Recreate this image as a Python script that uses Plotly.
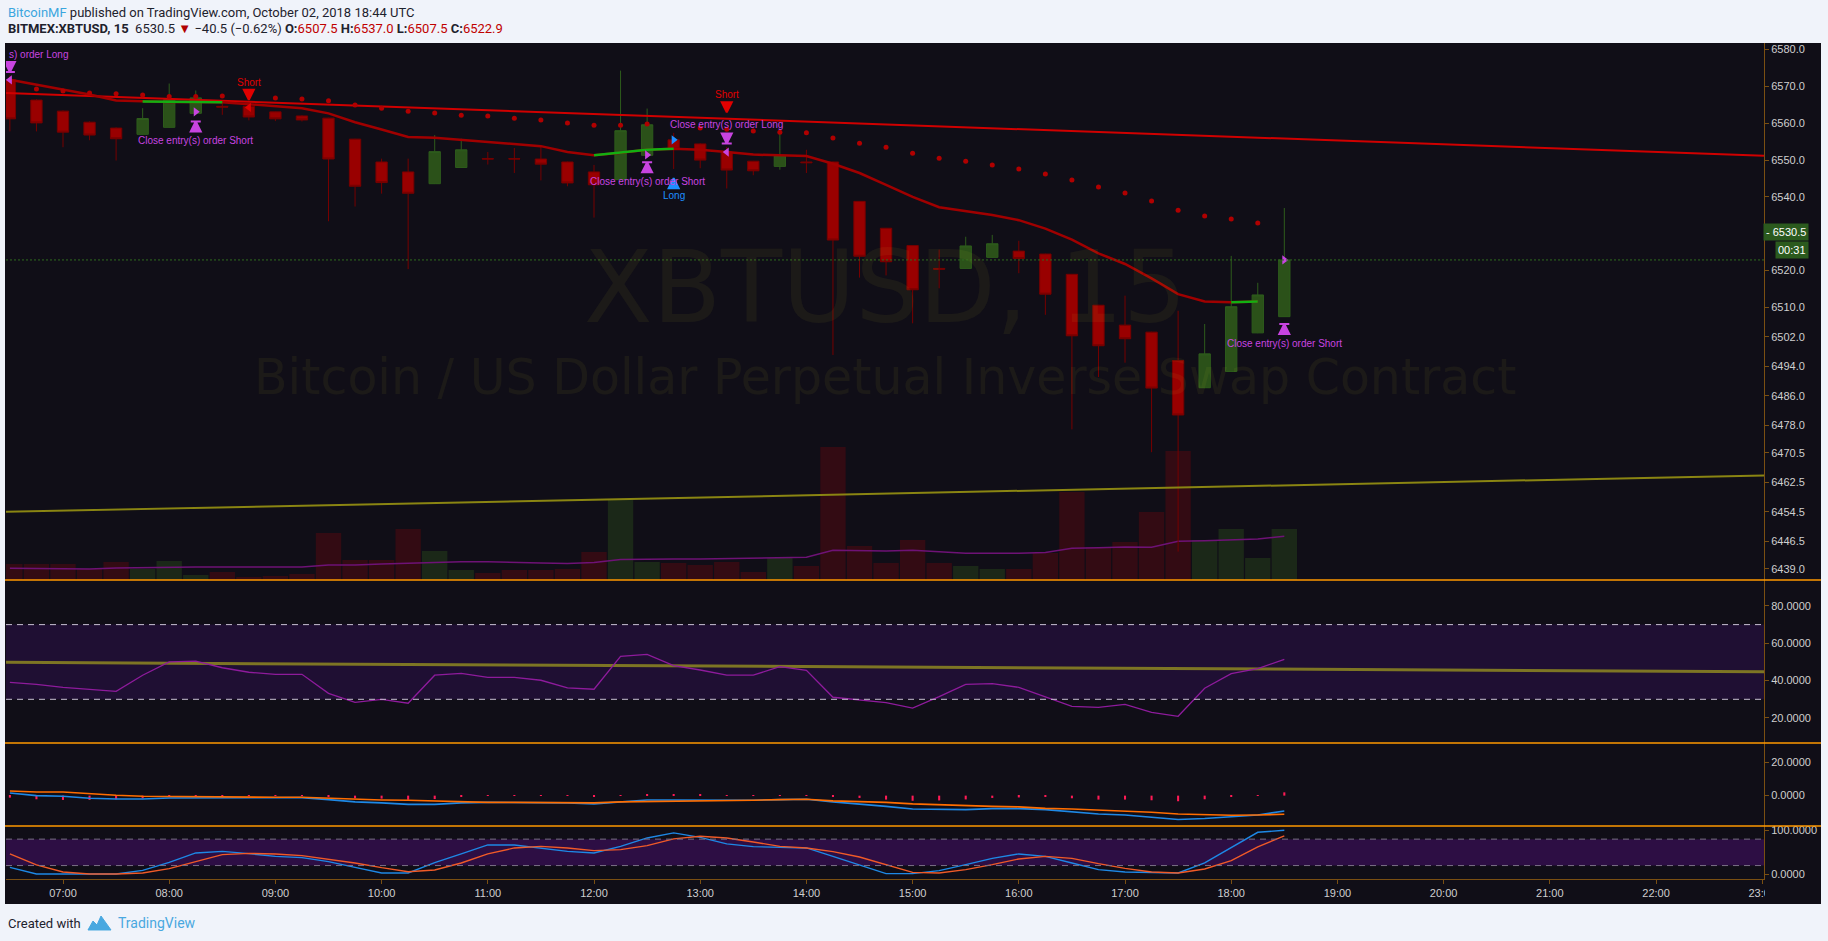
import plotly.graph_objects as go
import pandas as pd

DAY = "2018-10-02 "
times = pd.date_range(DAY + "06:30", periods=49, freq="15min")

opens = [6571.8, 6566.3, 6563.3, 6560.3, 6558.7, 6557.0, 6558.9, 6562.7, 6564.6, 6564.6,
         6563.1, 6562.0, 6561.4, 6555.7, 6549.5, 6546.8, 6543.6, 6548.0, 6550.4, 6550.4,
         6550.3, 6549.5, 6546.8, 6544.7, 6551.3, 6555.5, 6554.4, 6552.2, 6549.7, 6548.3,
         6549.5, 6549.5, 6538.8, 6531.5, 6526.8, 6520.6, 6520.6, 6523.6, 6525.3, 6524.5,
         6519.0, 6510.6, 6505.2, 6503.3, 6495.6, 6488.2, 6492.6, 6503.1, 6507.5]
highs = [6573.0, 6566.5, 6563.5, 6560.5, 6558.9, 6564.1, 6570.8, 6568.9, 6566.1, 6565.5,
         6563.2, 6562.2, 6561.5, 6555.8, 6550.4, 6550.4, 6556.8, 6555.8, 6552.2, 6553.3,
         6553.7, 6549.6, 6548.7, 6574.3, 6564.0, 6557.4, 6554.6, 6553.6, 6549.8, 6557.8,
         6552.8, 6549.6, 6538.9, 6531.6, 6526.9, 6525.7, 6529.2, 6529.7, 6528.1, 6524.6,
         6519.1, 6510.7, 6513.2, 6503.4, 6509.1, 6505.5, 6524.0, 6516.7, 6537.0]
lows = [6557.8, 6557.8, 6553.5, 6555.4, 6549.9, 6556.9, 6558.8, 6562.6, 6562.3, 6560.8,
        6560.6, 6560.5, 6533.4, 6537.4, 6540.9, 6520.4, 6543.5, 6547.9, 6548.8, 6546.5,
        6544.5, 6542.9, 6534.4, 6544.5, 6551.2, 6547.6, 6547.8, 6542.3, 6545.9, 6547.4,
        6546.5, 6497.1, 6518.1, 6518.7, 6505.7, 6515.2, 6520.5, 6523.5, 6519.3, 6508.0,
        6476.9, 6491.1, 6495.0, 6470.7, 6443.7, 6488.1, 6492.5, 6503.0, 6507.5]
closes = [6561.2, 6560.1, 6557.6, 6556.8, 6555.8, 6561.3, 6566.4, 6566.9, 6564.4, 6561.7,
          6561.2, 6560.9, 6550.3, 6542.9, 6543.9, 6541.0, 6552.3, 6552.8, 6550.3, 6550.3,
          6548.9, 6543.8, 6543.3, 6558.0, 6559.6, 6553.0, 6550.0, 6547.3, 6547.1, 6551.2,
          6549.3, 6528.3, 6523.9, 6522.4, 6514.8, 6520.4, 6526.7, 6527.3, 6523.3, 6513.6,
          6502.3, 6499.6, 6501.5, 6488.1, 6480.8, 6497.4, 6510.2, 6513.4, 6522.9]

volume = [16, 16, 16, 11, 18, 11, 19, 5, 8, 3, 4, 6, 47, 20, 20, 51, 29, 10, 7, 10,
          10, 11, 28, 80, 18, 17, 15, 18, 8, 22, 14, 133, 34, 17, 40, 17, 14, 11, 11, 27,
          88, 33, 38, 68, 129, 40, 51, 22, 51]
volume_ma = [11.7, 11.5, 11, 11, 12, 12.5, 13, 13, 13, 13, 13, 13, 15, 15, 16, 17, 18, 18.3, 18.3, 18,
             17, 16.5, 17.5, 20.5, 21, 21, 21, 21.5, 22, 22.5, 22.7, 29.7, 29, 29, 29.7, 28, 26.7, 26.7,
             26.7, 27.5, 31.7, 32.3, 33, 32.7, 38.7, 39.3, 40.5, 41, 43.7]

ema = [6571.8, 6570.5, 6569.1, 6567.8, 6566.2, 6565.9, 6565.8, 6565.8, 6565.7, 6565.2,
       6564.7, 6564.1, 6562.7, 6560.3, 6558.3, 6556.3, 6556.1, 6555.5, 6555.1, 6554.5,
       6553.8, 6552.2, 6551.3, 6552.0, 6552.8, 6553.1, 6552.8, 6552.2, 6551.5, 6551.3,
       6551.1, 6549.0, 6546.5, 6543.3, 6540.0, 6537.2, 6536.2, 6535.1, 6533.7, 6531.4,
       6528.4, 6524.7, 6521.8, 6517.9, 6513.6, 6511.6, 6511.4, 6511.6, None]
ema_green_spans = [(5, 8), (22, 25), (46, 48)]

sar = [None, 6569.3, 6568.8, 6568.2, 6568.0, 6567.7, 6567.3, 6567.3, 6567.4, None,
       6566.9, 6566.6, 6566.1, 6565.0, 6564.1, 6563.3, 6562.8, 6562.2, 6562.0, 6561.4,
       6560.9, 6560.1, 6559.5, 6559.5, 6559.8, None, 6558.7, 6558.4, 6557.9, 6557.6,
       6557.4, 6556.0, 6554.6, 6553.5, 6551.9, 6550.5, 6549.7, 6548.7, 6547.6, 6546.2,
       6544.6, 6542.7, 6541.1, 6538.9, 6536.4, 6534.8, 6534.0, 6532.9, None]

rsi = [39.1, 38.0, 36.4, 35.4, 34.3, 42.9, 50.0, 50.5, 46.9, 44.5, 43.4, 43.4, 33.2, 28.4,
       30.0, 27.9, 42.9, 43.9, 41.8, 41.8, 40.2, 36.1, 35.4, 53.0, 54.1, 48.0, 45.7, 42.9,
       42.9, 47.5, 45.5, 31.1, 29.6, 28.2, 25.3, 31.4, 38.0, 38.4, 36.4, 31.1, 26.2, 25.7,
       27.3, 23.0, 20.9, 35.9, 43.7, 46.4, 51.4]

macd = [1.6, 0.0, -0.4, -1.6, -2.0, -2.0, -1.4, -1.4, -1.2, -1.2, -1.2, -1.2, -2.4, -3.8,
        -4.4, -5.3, -5.3, -4.4, -4.1, -4.1, -4.1, -4.4, -5.0, -3.8, -2.6, -2.6, -2.8, -2.8,
        -2.8, -2.4, -2.2, -3.8, -5.0, -6.5, -8.1, -8.5, -8.5, -7.9, -7.9, -8.5, -9.7, -11.1,
        -11.7, -12.9, -14.5, -13.9, -12.7, -11.7, -9.3]
macd_signal = [2.8, 2.2, 2.2, 1.0, 0.2, -0.4, -0.6, -0.8, -0.8, -1.0, -1.0, -1.0, -1.6, -2.2,
               -2.6, -2.8, -3.2, -3.8, -4.1, -4.1, -4.1, -4.2, -4.4, -3.8, -3.6, -3.5, -3.5, -3.0,
               -2.8, -2.4, -2.2, -3.2, -3.6, -4.1, -5.0, -5.6, -6.2, -6.5, -6.8, -7.7, -8.1, -8.7,
               -9.3, -10.1, -11.1, -11.7, -11.9, -11.7, -11.3]
macd_hist = [-1.2, -2.2, -2.6, -2.6, -2.2, -1.6, -0.8, -0.6, -0.4, -0.2, -0.2, -0.2, -0.8, -1.6,
             -1.8, -2.5, -2.1, -0.6, -0.1, -0.1, 0.1, -0.2, -0.6, 0.2, 1.0, 0.9, 0.7, 0.2,
             0.1, 0.1, 0.1, -0.6, -1.4, -2.4, -3.1, -2.9, -2.3, -1.4, -1.1, -0.8, -1.6, -2.4,
             -2.4, -2.8, -3.4, -2.2, -0.8, 0.1, 2.0]

stoch_k = [15.9, 0.9, 0.9, 0.9, 0.9, 9.1, 27.3, 48.6, 52.3, 47.0, 40.9, 38.0, 28.9, 15.9,
           3.2, 3.2, 26.6, 46.4, 66.8, 66.8, 60.0, 52.3, 48.6, 63.6, 82.7, 94.1, 84.0, 69.1,
           63.0, 60.7, 60.0, 40.9, 20.5, 1.6, 1.6, 8.4, 22.0, 36.4, 46.4, 40.9, 25.9, 10.7,
           5.5, 3.9, 3.2, 25.9, 60.0, 95.5, 100.0]
stoch_d = [46.4, 21.4, 5.5, 0.9, 0.9, 3.2, 13.0, 28.9, 44.8, 47.7, 46.4, 42.5, 35.0, 25.9,
           15.2, 6.1, 10.0, 25.9, 46.4, 60.0, 63.6, 60.0, 53.9, 56.1, 65.2, 80.5, 86.4, 82.7,
           73.6, 63.6, 60.0, 51.6, 39.5, 22.0, 4.5, 3.2, 10.7, 22.0, 35.0, 40.9, 36.4, 24.3,
           13.6, 5.5, 3.2, 12.3, 31.1, 62.3, 87.3]

# drawn trend lines (start/end of visible range)
line_t = [DAY + "06:27:48", DAY + "23:01:00"]
red_trend = [6568.2, 6551.2]
yellow_trend = [6454.5, 6464.4]
rsi_trend = [49.8, 44.8]

# strategy labels
MAG, RED, BLUE = "#c844e0", "#e00000", "#1e8fff"
label_time = ["08:45", "08:15", "13:15", "13:15", "12:30", "12:45", "18:30"]
label_price = [6571.1, 6555.4, 6567.9, 6559.7, 6544.2, 6540.3, 6500.2]
label_text = ["Short", "Close entry(s) order Short", "Short", "Close entry(s) order Long",
              "Close entry(s) order Short", "Long", "Close entry(s) order Short"]
label_color = [RED, MAG, RED, MAG, MAG, BLUE, MAG]

arrow_time = ["06:30", "08:45", "08:15", "13:15", "13:15", "12:30", "12:45", "18:30"]
arrow_price = [6573.9, 6566.4, 6560.5, 6563.0, 6554.5, 6549.4, 6545.1, 6505.5]
arrow_symbol = ["arrow-bar-down", "arrow-down", "arrow-bar-up", "arrow-down",
                "arrow-bar-down", "arrow-bar-up", "arrow-up", "arrow-bar-up"]
arrow_color = [MAG, RED, MAG, RED, MAG, MAG, BLUE, MAG]

tri_time = ["06:30", "08:45", "08:15", "13:15", "12:30", "12:45", "18:30"]
tri_price = [6571.8, 6564.3, 6563.1, 6552.2, 6551.4, 6555.5, 6522.9]
tri_symbol = ["triangle-left", "triangle-left", "triangle-right", "triangle-left",
              "triangle-right", "triangle-right", "triangle-right"]
tri_color = [MAG, RED, MAG, MAG, MAG, BLUE, MAG]

price_ticks = [6580.0, 6570.0, 6560.0, 6550.0, 6540.0, 6520.0, 6510.0, 6502.0, 6494.0,
               6486.0, 6478.0, 6470.5, 6462.5, 6454.5, 6446.5, 6439.0]
hour_ticks = [f"{h:02d}:00" for h in range(7, 24)]

BG = "#100e17"
PAPER = "#f0f3fa"
AXIS = "#7a4f12"
SEP = "#ff9800"
TXT = "#cfcfcf"
W, H = 1828, 941
L, R, T, B = 6, 1764, 43, 879


def px(x):
    return (x - L) / (R - L)


def py(y):
    return (B - y) / (B - T)


fig = go.Figure()

# volume (base axis y)
vol_colors = ["#1b2818" if c >= o else "#330b13" for o, c in zip(opens, closes)]
fig.add_trace(go.Bar(x=times, y=volume, width=860000, marker_color=vol_colors,
                     marker_line_width=0, yaxis="y", xaxis="x"))
fig.add_trace(go.Scatter(x=times, y=volume_ma, mode="lines", line=dict(color="#6e1276", width=1.5),
                         yaxis="y", xaxis="x"))

# price overlay (y5)
fig.add_trace(go.Scatter(x=line_t, y=yellow_trend, mode="lines",
                         line=dict(color="#8a8512", width=2), yaxis="y5"))
fig.add_trace(go.Scatter(x=line_t, y=red_trend, mode="lines",
                         line=dict(color="#d00000", width=2), yaxis="y5"))
fig.add_trace(go.Scatter(x=times, y=ema, mode="lines",
                         line=dict(color="#a00000", width=2.5), yaxis="y5"))
for a, b in ema_green_spans:
    fig.add_trace(go.Scatter(x=times[a:b + 1], y=ema[a:b + 1], mode="lines",
                             line=dict(color="#12b012", width=2.5), yaxis="y5"))
fig.add_trace(go.Scatter(x=times, y=sar, mode="markers",
                         marker=dict(color="#b00000", size=5), yaxis="y5"))
fig.add_trace(go.Candlestick(
    x=times, open=opens, high=highs, low=lows, close=closes, yaxis="y5",
    increasing=dict(fillcolor="#2b5119", line=dict(color="#2e5c1c", width=1)),
    decreasing=dict(fillcolor="#990000", line=dict(color="#760000", width=1)),
    whiskerwidth=0))
fig.add_trace(go.Scatter(x=[pd.Timestamp(DAY + t) for t in arrow_time], y=arrow_price,
                         mode="markers", yaxis="y5",
                         marker=dict(symbol=arrow_symbol, color=arrow_color, size=10,
                                     line=dict(color=arrow_color, width=2))))
fig.add_trace(go.Scatter(x=[pd.Timestamp(DAY + t) for t in tri_time], y=tri_price,
                         mode="markers", yaxis="y5",
                         marker=dict(symbol=tri_symbol, color=tri_color, size=8)))

# RSI pane
fig.add_trace(go.Scatter(x=line_t, y=rsi_trend, mode="lines",
                         line=dict(color="#7d7524", width=3), yaxis="y2"))
fig.add_trace(go.Scatter(x=times, y=rsi, mode="lines",
                         line=dict(color="#8e1b9c", width=1.3), yaxis="y2"))

# MACD pane
fig.add_trace(go.Bar(x=times, y=macd_hist, width=70000, marker_color="#ff1a55",
                     marker_line_width=0, yaxis="y3"))
fig.add_trace(go.Scatter(x=times, y=macd, mode="lines",
                         line=dict(color="#1e88e5", width=1.6), yaxis="y3"))
fig.add_trace(go.Scatter(x=times, y=macd_signal, mode="lines",
                         line=dict(color="#ff6d00", width=1.6), yaxis="y3"))

# Stochastic pane
fig.add_trace(go.Scatter(x=times, y=stoch_k, mode="lines",
                         line=dict(color="#1e88e5", width=1.4), yaxis="y4"))
fig.add_trace(go.Scatter(x=times, y=stoch_d, mode="lines",
                         line=dict(color="#f05a28", width=1.4), yaxis="y4"))

tickfont = dict(family="Liberation Sans, Arial", size=11, color=TXT)
yax = dict(side="right", anchor="x", showgrid=False, zeroline=False, showline=True,
           linecolor=AXIS, linewidth=1, ticks="outside", ticklen=4, tickcolor=AXIS,
           tickfont=tickfont, fixedrange=True)

d_main = [py(580), 1]
d_rsi = [py(743), py(580)]
d_macd = [py(826), py(743)]
d_sto = [0, py(826)]

shapes = [
    dict(type="rect", xref="paper", yref="paper", x0=px(5), x1=px(1821), y0=py(904), y1=py(43),
         fillcolor=BG, line_width=0, layer="below"),
    dict(type="rect", xref="paper", yref="y2", x0=0, x1=1, y0=30, y1=70,
         fillcolor="#1f0f33", line_width=0, layer="below"),
    dict(type="rect", xref="paper", yref="y4", x0=0, x1=1, y0=20, y1=80,
         fillcolor="#2d0e44", line_width=0, layer="below"),
]
for v in (70, 30):
    shapes.append(dict(type="line", xref="paper", yref="y2", x0=0, x1=1, y0=v, y1=v,
                       line=dict(color="#c8c0d2", width=1, dash="6px,5px")))
for v in (80, 20):
    shapes.append(dict(type="line", xref="paper", yref="y4", x0=0, x1=1, y0=v, y1=v,
                       line=dict(color="#7a7086", width=1, dash="6px,5px")))
shapes.append(dict(type="line", xref="paper", yref="y5", x0=0, x1=1, y0=closes[-1], y1=closes[-1],
                   line=dict(color="#2f6b1f", width=1, dash="2px,2px")))
for yy in (580, 743, 826):
    shapes.append(dict(type="line", xref="paper", yref="paper", x0=px(5), x1=px(1821),
                       y0=py(yy), y1=py(yy), line=dict(color=SEP, width=1.5)))
# hide the overflow of the last time label behind the price scale
shapes.append(dict(type="rect", xref="paper", yref="paper", x0=px(1765), x1=px(1815),
                   y0=py(903), y1=py(881), fillcolor=BG, line_width=0, layer="above"))
# TradingView logo (simplified)
lx = [88, 93, 97, 101, 106, 111]
ly = [930, 921, 925, 916, 923, 930]
path = "M" + " L".join(f"{px(a):.5f},{py(b):.5f}" for a, b in zip(lx, ly)) + " Z"
shapes.append(dict(type="path", xref="paper", yref="paper", path=path,
                   fillcolor="#49a8e0", line=dict(color="#49a8e0", width=1)))

WM = "rgba(255,250,60,0.05)"
annotations = [
    dict(xref="paper", yref="paper", x=0.5, y=py(287), text="XBTUSD, 15", showarrow=False,
         yanchor="middle", font=dict(family="DejaVu Sans", size=100, color=WM)),
    dict(xref="paper", yref="paper", x=0.5, y=py(378),
         text="Bitcoin / US Dollar Perpetual Inverse Swap Contract", showarrow=False,
         yanchor="middle", font=dict(family="DejaVu Sans", size=49, color=WM)),
    dict(xref="paper", yref="paper", x=px(6), y=py(12), xanchor="left", yanchor="middle",
         showarrow=False,
         text="<span style='color:#3ba6de'>BitcoinMF</span> published on TradingView.com, "
              "October 02, 2018 18:44 UTC",
         font=dict(family="Roboto", size=13, color="#1e222d")),
    dict(xref="paper", yref="paper", x=px(6), y=py(29), xanchor="left", yanchor="middle",
         showarrow=False,
         text="<b>BITMEX:XBTUSD, 15</b>  6530.5 <span style='color:#b00000'>▼</span> "
              "−40.5 (−0.62%) <b>O:</b><span style='color:#c00000'>6507.5</span> "
              "<b>H:</b><span style='color:#c00000'>6537.0</span> "
              "<b>L:</b><span style='color:#c00000'>6507.5</span> "
              "<b>C:</b><span style='color:#c00000'>6522.9</span>",
         font=dict(family="Roboto", size=13, color="#1e222d")),
    dict(xref="paper", yref="paper", x=px(6), y=py(923), xanchor="left", yanchor="middle",
         showarrow=False, text="Created with",
         font=dict(family="Roboto", size=13, color="#1e222d")),
    dict(xref="paper", yref="paper", x=px(116), y=py(923), xanchor="left", yanchor="middle",
         showarrow=False, text="TradingView",
         font=dict(family="Roboto", size=14, color="#49a8e0")),
    dict(xref="paper", yref="paper", x=px(7), y=py(54), xanchor="left", yanchor="middle",
         showarrow=False, text="s) order Long",
         font=dict(family="Liberation Sans", size=10, color=MAG)),
    dict(xref="paper", yref="y5", x=px(1809), y=6530.5, xanchor="right", yanchor="middle",
         showarrow=False, text="- 6530.5", bgcolor="#2b5a1e", borderpad=2,
         font=dict(family="Liberation Sans", size=11, color="#ffffff")),
    dict(xref="paper", yref="paper", x=px(1809), y=py(249.5), xanchor="right", yanchor="middle",
         showarrow=False, text="00:31", bgcolor="#2b5a1e", borderpad=2,
         font=dict(family="Liberation Sans", size=11, color="#ffffff")),
]
for t, p, s, c in zip(label_time, label_price, label_text, label_color):
    annotations.append(dict(xref="x", yref="y5", x=pd.Timestamp(DAY + t), y=p, text=s,
                            showarrow=False, yanchor="middle",
                            font=dict(family="Liberation Sans", size=10, color=c)))

fig.update_layout(
    width=W, height=H,
    margin=dict(l=L, r=W - R, t=T, b=H - B, pad=0),
    paper_bgcolor=PAPER, plot_bgcolor="rgba(0,0,0,0)",
    showlegend=False, hovermode=False, barmode="overlay", boxgap=0.39,
    xaxis=dict(type="date", range=line_t, anchor="y4", domain=[0, 1],
               rangeslider=dict(visible=False), showgrid=False, zeroline=False,
               showline=True, linecolor=AXIS, ticks="outside", ticklen=4, tickcolor=AXIS,
               tickvals=[DAY + h for h in hour_ticks], ticktext=hour_ticks,
               tickfont=dict(family="Liberation Sans, Arial", size=11, color=TXT),
               fixedrange=True),
    yaxis=dict(domain=d_main, range=[0, 537], visible=False, anchor="x", fixedrange=True),
    yaxis5=dict(yax, overlaying="y", range=[6436.0, 6581.8], tickvals=price_ticks,
                ticktext=[f"{v:.1f}" for v in price_ticks]),
    yaxis2=dict(yax, domain=d_rsi, range=[6.6, 93.9], tickvals=[20, 40, 60, 80],
                ticktext=[f"{v:.4f}" for v in (20, 40, 60, 80)]),
    yaxis3=dict(yax, domain=d_macd, range=[-18.4, 31.9], tickvals=[0, 20],
                ticktext=[f"{v:.4f}" for v in (0, 20)]),
    yaxis4=dict(yax, domain=d_sto, range=[-10.5, 109.8], tickvals=[0, 100],
                ticktext=[f"{v:.4f}" for v in (0, 100)]),
    shapes=shapes, annotations=annotations,
)

fig.write_html("out.html", config={"displayModeBar": False},
               post_script="document.body.style.margin='0';")
